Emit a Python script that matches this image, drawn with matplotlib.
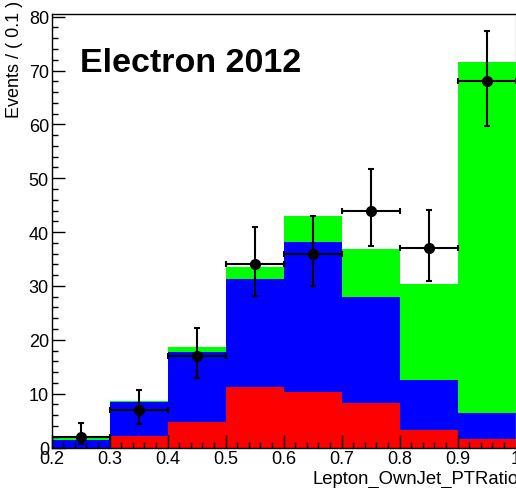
import numpy as np
import matplotlib
matplotlib.use('Agg')
import matplotlib.pyplot as plt
from matplotlib.ticker import MultipleLocator

# -----------------------------------------------------------------------
# Data
# -----------------------------------------------------------------------
BIN_EDGES = [0.2, 0.3, 0.4, 0.5, 0.6, 0.7, 0.8, 0.9, 1.0]

# cumulative stack tops: red, red+blue, red+blue+green
RED_TOP   = [0.0, 2.1, 4.7, 11.3, 10.4, 8.3, 3.3, 1.65]
BLUE_TOP  = [1.45, 8.4, 17.8, 31.3, 38.2, 27.9, 12.5, 6.4]
GREEN_TOP = [1.75, 8.7, 18.6, 33.6, 42.9, 36.8, 30.4, 71.6]

# data points with asymmetric (Poisson) errors
DATA     = [2, 7, 17, 34, 36, 44, 37, 68]
ERR_LOW  = [1.29, 2.58, 4.08, 5.79, 5.97, 6.63, 6.06, 8.23]
ERR_HIGH = [2.64, 3.77, 5.18, 6.88, 7.06, 7.71, 7.15, 9.30]

X_TICKS = [0.2, 0.3, 0.4, 0.5, 0.6, 0.7, 0.8, 0.9, 1.0]
X_TICK_LABELS = ['0.2', '0.3', '0.4', '0.5', '0.6', '0.7', '0.8', '0.9', '1']

# -----------------------------------------------------------------------
# Plot
# -----------------------------------------------------------------------
plt.rcParams['font.family'] = ['Liberation Sans', 'DejaVu Sans']

fig = plt.figure(figsize=(5.16, 4.89), dpi=100)
ax = fig.add_axes([0.1002, 0.0828, 0.899, 0.8865])

left = np.array(BIN_EDGES[:-1])
width = np.diff(BIN_EDGES)
centers = left + width / 2

ax.bar(left, GREEN_TOP, width=width, align='edge', color='#00ff00', lw=0, zorder=1)
ax.bar(left, BLUE_TOP, width=width, align='edge', color='#0000ff', lw=0, zorder=1)
ax.bar(left, RED_TOP, width=width, align='edge', color='#ff0000', lw=0, zorder=1)

ax.errorbar(centers, DATA, xerr=width / 2, yerr=[ERR_LOW, ERR_HIGH],
            fmt='o', color='black', ms=7, elinewidth=1.5, capsize=2.5,
            capthick=1.5, zorder=3)

ax.set_xlim(0.2, 1.0)
ax.set_ylim(0, 80.5)

ax.set_xticks(X_TICKS)
ax.set_xticklabels(X_TICK_LABELS)
ax.xaxis.set_minor_locator(MultipleLocator(0.02))
ax.yaxis.set_major_locator(MultipleLocator(10))
ax.yaxis.set_minor_locator(MultipleLocator(2))

ax.tick_params(which='both', direction='in', top=False, right=False,
               labelsize=13, colors='black', width=1)
ax.tick_params(which='major', length=9.4)
ax.tick_params(which='minor', length=4.3)
ax.tick_params(axis='x', pad=2)
ax.tick_params(axis='y', pad=2)

for sp in ax.spines.values():
    sp.set_linewidth(1)
    sp.set_zorder(4)
ax.spines['right'].set_color('#aaaaaa')

fig.text(80 / 516, 1 - 72 / 489, 'Electron 2012', fontsize=24.5,
         fontweight='bold', ha='left', va='baseline')

fig.text(15 / 516, 1 - 1 / 489, 'Events / ( 0.1 )', rotation=90,
         fontsize=13, ha='center', va='top')
fig.text(313 / 516, 1 - 479 / 489, 'Lepton_OwnJet_PTRatio',
         fontsize=13.3, ha='left', va='center')

fig.savefig('out.png', dpi=100)
